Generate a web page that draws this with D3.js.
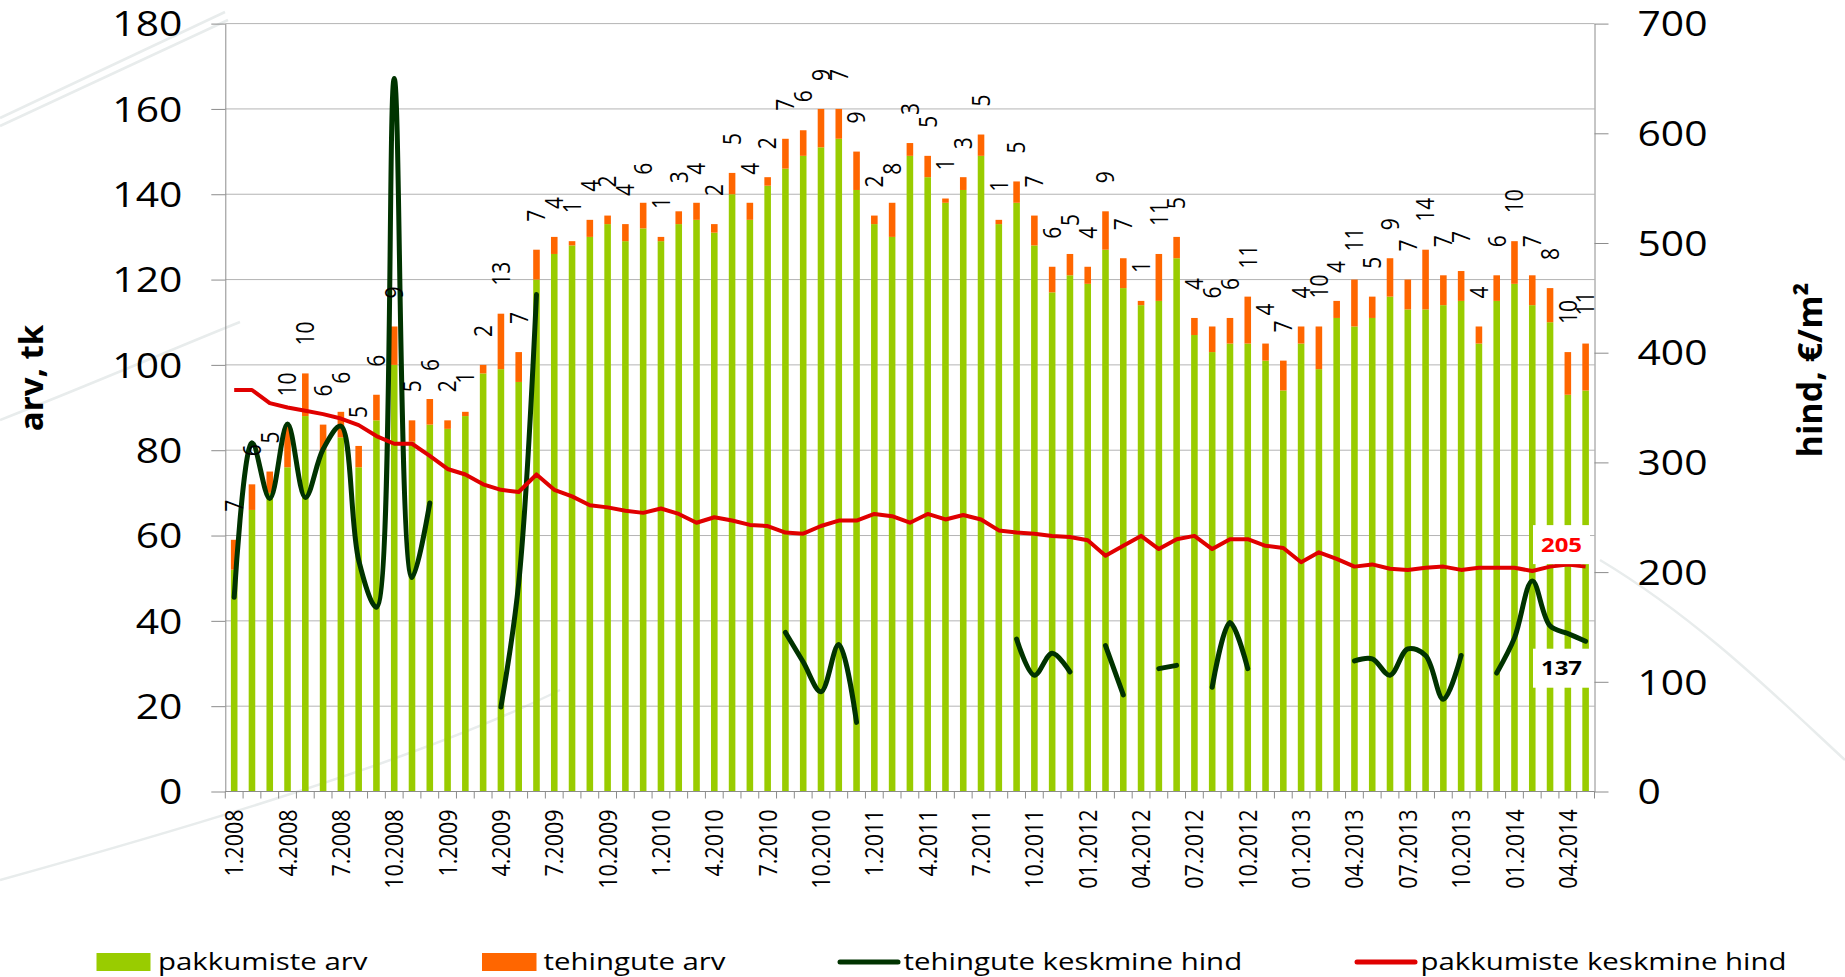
<!DOCTYPE html>
<html><head><meta charset="utf-8">
<script src="https://cdn.jsdelivr.net/npm/d3@7"></script>
<style>
html,body{margin:0;padding:0;background:#fff;}
svg{display:block;}
text{font-family:"Open Sans",sans-serif;}
</style></head><body>
<svg id="chart" width="1845" height="977"></svg>
<script>
// ---- data ----
const categories = [
 "1.2008","2.2008","3.2008","4.2008","5.2008","6.2008","7.2008","8.2008","9.2008","10.2008","11.2008","12.2008",
 "1.2009","2.2009","3.2009","4.2009","5.2009","6.2009","7.2009","8.2009","9.2009","10.2009","11.2009","12.2009",
 "1.2010","2.2010","3.2010","4.2010","5.2010","6.2010","7.2010","8.2010","9.2010","10.2010","11.2010","12.2010",
 "1.2011","2.2011","3.2011","4.2011","5.2011","6.2011","7.2011","8.2011","9.2011","10.2011","11.2011","12.2011",
 "01.2012","02.2012","03.2012","04.2012","05.2012","06.2012","07.2012","08.2012","09.2012","10.2012","11.2012","12.2012",
 "01.2013","02.2013","03.2013","04.2013","05.2013","06.2013","07.2013","08.2013","09.2013","10.2013","11.2013","12.2013",
 "01.2014","02.2014","03.2014","04.2014","05.2014"];
const tickLabels = ["1.2008","4.2008","7.2008","10.2008","1.2009","4.2009","7.2009","10.2009","1.2010","4.2010","7.2010","10.2010",
 "1.2011","4.2011","7.2011","10.2011","01.2012","04.2012","07.2012","10.2012","01.2013","04.2013","07.2013","10.2013","01.2014","04.2014"];
// pakkumiste arv (offers count)
const offers = [52,66,70,76,88,80,83,76,87,100,82,86,
 85,88,98,99,96,120,126,128,130,133,129,132,
 129,133,134,131,140,134,142,146,149,151,153,141,
 133,130,149,144,138,141,149,133,138,128,117,121,
 119,127,118,114,115,125,107,103,105,105,101,94,
 105,99,111,109,111,116,113,113,114,115,105,115,
 119,114,110,93,94];
// tehingute arv (deals count)
const deals = [7,6,5,10,10,6,6,5,6,9,5,6,
 2,1,2,13,7,7,4,1,4,2,4,6,
 1,3,4,2,5,4,2,7,6,9,7,9,
 2,8,3,5,1,3,5,1,5,7,6,5,
 4,9,7,1,11,5,4,6,6,11,4,7,
 4,10,4,11,5,9,7,14,7,7,4,6,
 10,7,8,10,11];
// tehingute keskmine hind (deals average price, €/m2), null = no value
const dealPrice = [177,318,267,335,268,312,333,211,168,650,195,263,
 null,null,null,77,190,453,null,null,null,null,null,null,
 null,null,null,null,null,null,null,145,118,91,134,63,
 null,null,null,null,null,null,null,null,139,106,126,109,
 null,133,88,null,112,115,null,95,154,112,null,null,
 null,null,null,119,121,106,130,124,84,124,null,108,
 140,192,151,144,137];
// pakkumiste keskmine hind (offers average price, €/m2)
const offerPrice = [366,366,354,350,347,344,340,334,324,317,317,306,
 294,289,280,275,273,289,275,269,261,259,256,254,
 258,253,245,250,247,243,242,236,235,242,247,247,
 253,251,245,253,248,252,248,238,236,235,233,232,
 229,215,224,233,221,230,233,221,230,230,224,222,
 209,218,212,205,207,203,202,204,205,202,204,204,
 204,201,205,207,205];
const leftTicks = [0,20,40,60,80,100,120,140,160,180];
const rightTicks = [0,100,200,300,400,500,600,700];
const seriesNames = ["pakkumiste arv","tehingute arv","tehingute keskmine hind","pakkumiste keskmine hind"];
const axisTitles = ["arv, tk","hind, €/m²"];

// ---- layout ----
const L = 225.3, R = 1594.5, T = 23.6, B = 791.5;
const SX = 1.2;
const C = {green:"#99cc00", orange:"#ff6600", dark:"#003300", red:"#e00000", grid:"#b4b4b4", axis:"#8c8c8c"};

const svg = d3.select("#chart");

// faint background decoration
const bg = svg.append("g").attr("fill","none").attr("stroke","#e8ecec").attr("stroke-width",2.5);
bg.append("path").attr("d","M0,118 L225,12");
bg.append("path").attr("d","M0,126 L228,20");
bg.append("path").attr("d","M0,420 C90,385 170,350 240,322");
bg.append("path").attr("d","M0,880 C180,830 420,760 560,690");
bg.append("path").attr("d","M1600,560 C1700,620 1780,700 1845,760");

const x = d3.scaleBand().domain(categories).range([L,R]).paddingInner(0.63).paddingOuter(0.315);
const bw = x.bandwidth();
const yL = d3.scaleLinear().domain([0,180]).range([B,T]);
const yR = d3.scaleLinear().domain([0,700]).range([B,T]);

// gridlines
svg.append("g").selectAll("line").data(leftTicks.filter(v=>v>0)).join("line")
  .attr("x1",L).attr("x2",R).attr("y1",d=>yL(d)).attr("y2",d=>yL(d))
  .attr("stroke",C.grid).attr("stroke-width",1);

// bars
const rows = categories.map((c,i)=>({c, o:offers[i], d:deals[i], dp:dealPrice[i], op:offerPrice[i]}));
const gb = svg.append("g");
gb.selectAll("rect.g").data(rows).join("rect").attr("class","g")
  .attr("x",d=>x(d.c)).attr("width",bw)
  .attr("y",d=>yL(d.o)).attr("height",d=>B-yL(d.o)).attr("fill",C.green);
gb.selectAll("rect.o").data(rows).join("rect").attr("class","o")
  .attr("x",d=>x(d.c)).attr("width",bw)
  .attr("y",d=>yL(d.o+d.d)).attr("height",d=>yL(d.o)-yL(d.o+d.d)).attr("fill",C.orange);

// lines
const cx = d => x(d.c)+bw/2;
const dealLine = d3.line().defined(d=>d.dp!=null).x(cx).y(d=>yR(d.dp)).curve(d3.curveCatmullRom.alpha(0.5));
svg.append("path").datum(rows).attr("d",dealLine).attr("fill","none")
  .attr("stroke",C.dark).attr("stroke-width",5).attr("stroke-linecap","round").attr("stroke-linejoin","round");
const offerLine = d3.line().x(cx).y(d=>yR(d.op));
svg.append("path").datum(rows).attr("d",offerLine).attr("fill","none")
  .attr("stroke",C.red).attr("stroke-width",4).attr("stroke-linejoin","round");

// left axis
const gL = svg.append("g").attr("transform",`translate(${L},0)`)
  .call(d3.axisLeft(yL).tickValues(leftTicks).tickSize(14).tickSizeOuter(0));
gL.attr("font-family",null).attr("font-size",null);
gL.select(".domain").attr("stroke",C.axis);
gL.selectAll(".tick line").attr("stroke",C.axis);
gL.selectAll(".tick text").attr("x",0).attr("dy","0.36em").attr("fill","#000")
  .attr("font-size",34).attr("text-anchor","end")
  .attr("transform",`translate(-43,0) scale(${SX},1)`);

// right axis
const gR = svg.append("g").attr("transform",`translate(${R},0)`)
  .call(d3.axisRight(yR).tickValues(rightTicks).tickSize(14).tickSizeOuter(0));
gR.attr("font-family",null).attr("font-size",null);
gR.select(".domain").attr("stroke",C.axis);
gR.selectAll(".tick line").attr("stroke",C.axis);
gR.selectAll(".tick text").attr("x",0).attr("dy","0.36em").attr("fill","#000")
  .attr("font-size",34).attr("text-anchor","start")
  .attr("transform",`translate(43,0) scale(${SX},1)`);

// bottom axis: baseline + boundary ticks
const bounds = categories.map(c=>x(c)-x.step()*x.paddingInner()/2).concat([R]);
svg.append("line").attr("x1",L).attr("x2",R).attr("y1",B).attr("y2",B).attr("stroke",C.axis);
svg.append("g").selectAll("line").data(bounds).join("line")
  .attr("x1",d=>d).attr("x2",d=>d).attr("y1",B).attr("y2",B+7).attr("stroke",C.axis);
const gX = svg.append("g").attr("transform",`translate(0,${B})`)
  .call(d3.axisBottom(x).tickValues(tickLabels).tickSize(0));
gX.attr("font-family",null).attr("font-size",null);
gX.select(".domain").remove();
gX.selectAll(".tick text").attr("y",0).attr("dy","0.35em").attr("fill","#000")
  .attr("font-size",21.5).attr("text-anchor","end")
  .attr("transform",`translate(0,18) scale(${SX},1) rotate(-90)`);

// data labels (deal counts)
svg.append("g").selectAll("text").data(rows).join("text")
  .attr("transform",d=>`translate(${cx(d)},${yL(d.o+d.d)-28}) scale(${SX},1) rotate(-90)`)
  .attr("dy","0.35em").attr("text-anchor","start").attr("font-size",21).attr("fill","#000")
  .text(d=>d.d);

// end labels
const last = rows[rows.length-1];
const lbx = R-33;
function endLabel(v, yc, col){
  svg.append("rect").attr("x",lbx-28.5).attr("y",yc-19.5).attr("width",57).attr("height",39).attr("fill","#fff");
  svg.append("text").attr("transform",`translate(${lbx},${yc}) scale(${SX},1)`)
    .attr("dy","0.36em").attr("text-anchor","middle").attr("font-size",20).attr("font-weight","bold")
    .attr("fill",col).text(v);
}
endLabel(last.op, yR(last.op)-22, "#ff0000");
endLabel(last.dp, yR(last.dp)+27, "#000");

// axis titles
svg.append("text").attr("transform","translate(43,378) rotate(-90)").attr("text-anchor","middle")
  .attr("font-size",33).attr("font-weight","bold").attr("fill","#000").text(axisTitles[0]);
svg.append("text").attr("transform","translate(1822,370) rotate(-90)").attr("text-anchor","middle")
  .attr("font-size",34).attr("font-weight","bold").attr("fill","#000").text(axisTitles[1]);

// legend
const lg = svg.append("g");
const ly = 962;
lg.append("rect").attr("x",96.5).attr("y",953).attr("width",54).attr("height",18).attr("fill",C.green);
lg.append("rect").attr("x",482).attr("y",953).attr("width",54.5).attr("height",18).attr("fill",C.orange);
lg.append("line").attr("x1",840).attr("x2",898).attr("y1",ly).attr("y2",ly).attr("stroke",C.dark).attr("stroke-width",5).attr("stroke-linecap","round");
lg.append("line").attr("x1",1357).attr("x2",1415).attr("y1",ly).attr("y2",ly).attr("stroke",C.red).attr("stroke-width",5).attr("stroke-linecap","round");
const lx = [158,543.5,903.5,1420.5];
lg.selectAll("text").data(seriesNames).join("text")
  .attr("transform",(d,i)=>`translate(${lx[i]},970) scale(${SX},1)`)
  .attr("font-size",24.5).attr("fill","#000").text(d=>d);
</script>
</body></html>
